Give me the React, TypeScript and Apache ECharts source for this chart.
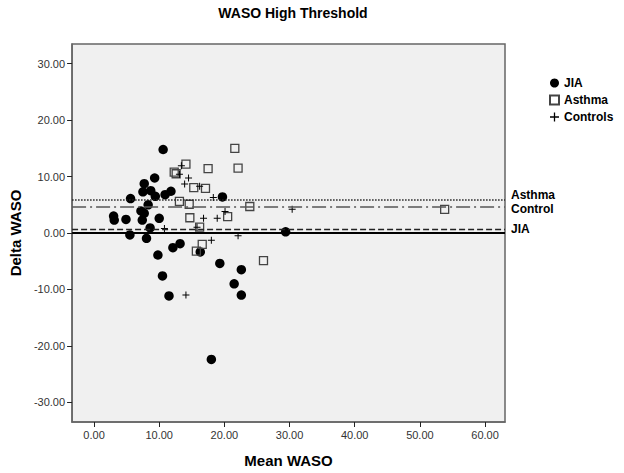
import React, { useEffect, useRef } from "react";
import * as echarts from "echarts";

const jiaX = [10.6, 9.3, 7.7, 7.5, 8.7, 9.4, 5.6, 10.9, 11.8, 8.3, 7.2, 7.7, 3.0, 3.1, 4.9, 7.4, 10.0, 8.6, 19.7, 5.5, 8.05, 9.8, 12.1, 13.2, 16.3, 19.3, 22.6, 21.5, 22.6, 10.5, 11.5, 18.0, 29.4];
const jiaY = [14.8, 9.75, 8.75, 7.3, 7.5, 6.5, 6.1, 6.8, 7.4, 5.0, 3.9, 3.5, 3.0, 2.3, 2.4, 2.3, 2.6, 0.9, 6.4, -0.35, -0.95, -3.9, -2.6, -1.9, -3.35, -5.4, -6.5, -9.0, -11.0, -7.6, -11.15, -22.4, 0.2];

const asthmaX = [14.1, 12.3, 12.6, 17.5, 21.6, 22.1, 15.3, 17.1, 13.1, 14.6, 23.9, 14.7, 20.5, 16.2, 16.6, 15.7, 26.0, 53.8];
const asthmaY = [12.2, 10.8, 10.5, 11.4, 15.0, 11.5, 8.05, 7.9, 5.6, 5.1, 4.7, 2.7, 2.9, 1.05, -2.0, -3.2, -4.9, 4.2];

const controlX = [13.4, 13.1, 14.5, 13.9, 16.2, 18.3, 16.8, 18.9, 20.1, 10.8, 15.8, 18.0, 22.1, 14.1, 30.4];
const controlY = [11.9, 10.4, 9.75, 8.7, 8.3, 6.3, 2.6, 2.6, 3.8, 0.8, 1.0, -1.3, -0.5, -11.0, 4.2];

const meanNames = ["Asthma", "Control", "JIA"];
const meanValues = [5.83, 4.73, 0.75];
const meanLabelShift = [-5, 3, 0.5];

const xTicks = [0, 10, 20, 30, 40, 50, 60];
const yTicks = [-30, -20, -10, 0, 10, 20, 30];

const FONT = "'Liberation Sans', Arial, sans-serif";

const zip = (xs: number[], ys: number[]) => xs.map((x, i) => [x, ys[i]]);

const PLUS = "path://M3,0L4,0L4,3L7,3L7,4L4,4L4,7L3,7L3,4L0,4L0,3L3,3Z";

export default function App() {
  const ref = useRef<HTMLDivElement>(null);
  useEffect(() => {
    if (!ref.current) return;
    const chart = echarts.init(ref.current, null, { renderer: "svg" });
    const meanStyles: any[] = [
      { color: "#222", width: 1.5, type: [1.5, 1.5] },
      { color: "#555", width: 1.5, type: [14, 4, 2, 4] },
      { color: "#222", width: 1.3, type: [6, 3] },
    ];
    const option: any = {
      animation: false,
      backgroundColor: "#ffffff",
      title: {
        text: "WASO High Threshold",
        left: 288,
        textAlign: "center",
        top: 1,
        textStyle: { fontFamily: FONT, fontSize: 14, fontWeight: "bold", color: "#000" },
      },
      legend: {
        orient: "vertical",
        left: 544,
        top: 72,
        itemWidth: 9,
        itemHeight: 9,
        itemGap: 5,
        textStyle: { fontFamily: FONT, fontSize: 12, fontWeight: "bold", color: "#000" },
        data: ["JIA", "Asthma", "Controls"],
      },
      grid: {
        left: 71,
        top: 44,
        width: 434,
        height: 382,
        show: true,
        backgroundColor: "#f0f0f0",
        borderColor: "#666",
        borderWidth: 1.5,
      },
      xAxis: {
        type: "value",
        min: -3.37,
        max: 63.06,
        name: "Mean WASO",
        nameLocation: "middle",
        nameGap: 31,
        nameTextStyle: { fontFamily: FONT, fontSize: 15, fontWeight: "bold", color: "#000" },
        splitLine: { show: false },
        axisLine: { show: true, onZero: false, lineStyle: { color: "#666", width: 1.5 } },
        axisTick: { show: true, length: 5, customValues: xTicks, lineStyle: { color: "#222", width: 1 } },
        axisLabel: {
          customValues: xTicks,
          formatter: (v: number) => v.toFixed(2),
          fontFamily: FONT,
          fontSize: 11,
          color: "#333",
          margin: 7,
        },
      },
      yAxis: {
        type: "value",
        min: -33.5,
        max: 33.5,
        name: "Delta WASO",
        nameLocation: "middle",
        nameGap: 46,
        nameTextStyle: { fontFamily: FONT, fontSize: 15, fontWeight: "bold", color: "#000" },
        splitLine: { show: false },
        axisLine: { show: true, onZero: false, lineStyle: { color: "#666", width: 1.5 } },
        axisTick: { show: true, length: 5, customValues: yTicks, lineStyle: { color: "#222", width: 1 } },
        axisLabel: {
          customValues: yTicks,
          formatter: (v: number) => v.toFixed(2),
          fontFamily: FONT,
          fontSize: 11,
          color: "#333",
          margin: 7,
        },
      },
      series: [
        {
          name: "reference",
          type: "scatter",
          data: [],
          silent: true,
          markLine: {
            symbol: "none",
            silent: true,
            label: { show: false },
            data: [
              { yAxis: 0, lineStyle: { color: "#000", width: 2, type: "solid" } },
              ...meanValues.map((v, i) => ({ yAxis: v, lineStyle: meanStyles[i] })),
            ],
          },
        },
        {
          name: "JIA",
          type: "scatter",
          symbol: "circle",
          symbolSize: 9.5,
          itemStyle: { color: "#000", opacity: 1 },
          data: zip(jiaX, jiaY),
        },
        {
          name: "Asthma",
          type: "scatter",
          symbol: "rect",
          symbolSize: 8,
          itemStyle: { color: "rgba(0,0,0,0)", borderColor: "#444", borderWidth: 1.3, opacity: 1 },
          data: zip(asthmaX, asthmaY),
        },
        {
          name: "Controls",
          type: "scatter",
          symbol: PLUS,
          symbolSize: 7,
          itemStyle: { color: "#000", opacity: 1 },
          data: zip(controlX, controlY),
        },
      ],
    };
    chart.setOption(option);
    const graphics = meanNames.map((name, i) => {
      const p = chart.convertToPixel({ gridIndex: 0 }, [63.06, meanValues[i]]) as number[];
      return {
        type: "text",
        x: p[0] + 6,
        y: p[1] + meanLabelShift[i],
        style: {
          text: name,
          fontFamily: FONT,
          fontSize: 12,
          fontWeight: "bold",
          fill: "#000",
          verticalAlign: "middle",
          align: "left",
        },
      };
    });
    chart.setOption({ graphic: graphics });
    return () => chart.dispose();
  }, []);
  return <div ref={ref} style={{ position: "absolute", left: 0, top: 0, width: 624, height: 473 }} />;
}
